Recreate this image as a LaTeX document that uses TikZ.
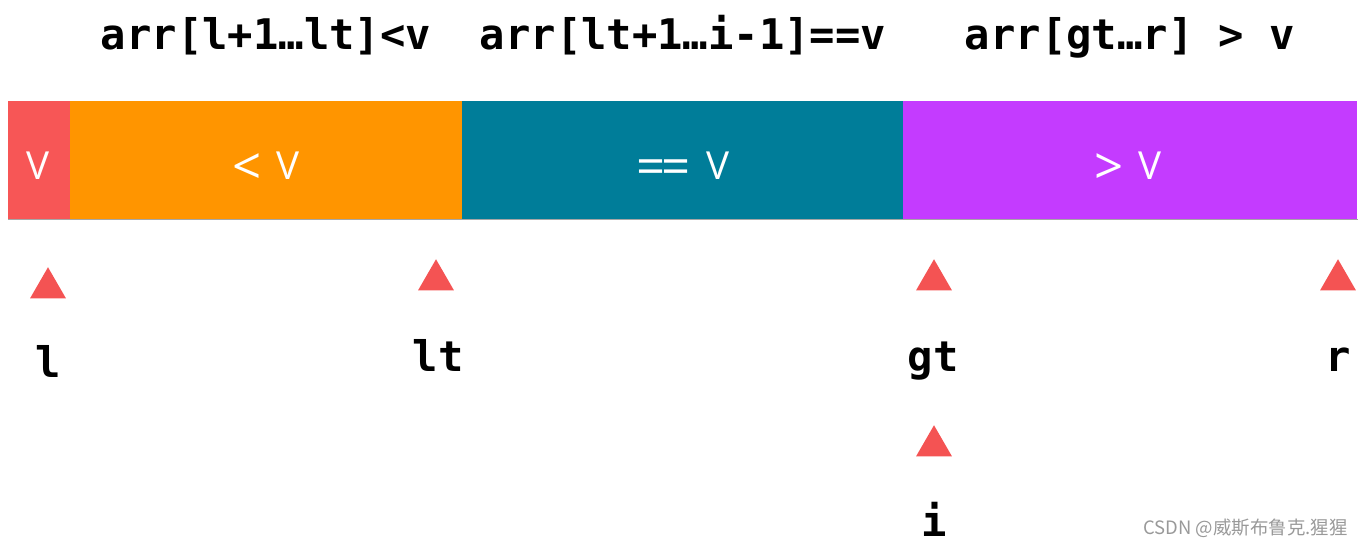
\documentclass[tikz,border=0pt]{standalone}
\usepackage{fontspec}
\setmonofont{DejaVu Sans Mono}
\newfontfamily\barfont{Open Sans}
\newfontfamily\cjk{Noto Sans CJK SC}
\usetikzlibrary{shapes.geometric}
\definecolor{cred}{HTML}{F75656}
\definecolor{corange}{HTML}{FF9500}
\definecolor{cteal}{HTML}{007D99}
\definecolor{cpurple}{HTML}{C43BFF}
\definecolor{ctri}{HTML}{F45353}
\newcommand{\bigsym}[1]{{\fontsize{29}{32}\selectfont\raisebox{-2.6pt}{#1}}}
\tikzset{
  seg/.style={draw=none, inner sep=0pt, anchor=north west, minimum height=118*0.02cm},
  bartext/.style={font=\barfont\fontsize{22}{24}\selectfont, text=white, anchor=base, inner sep=0pt},
  toplabel/.style={font=\ttfamily\bfseries\fontsize{24}{28}\selectfont, anchor=base, inner sep=0pt},
  ptrlabel/.style={font=\ttfamily\bfseries\fontsize{24}{28}\selectfont, anchor=base, inner sep=0pt},
  tri/.style={regular polygon, regular polygon sides=3, fill=ctri, draw=none, inner sep=0pt, minimum size=0.83cm},
}
\begin{document}
\begin{tikzpicture}[x=0.02cm, y=-0.02cm]
\useasboundingbox (0,0) rectangle (1363,546);
% bar segments
\node[seg, fill=cred, minimum width=62*0.02cm] (sv) at (8,101) {};
\node[seg, fill=corange, minimum width=392*0.02cm] (slt) at (70,101) {};
\node[seg, fill=cteal, minimum width=441*0.02cm] (seq) at (462,101) {};
\node[seg, fill=cpurple, minimum width=454*0.02cm] (sgt) at (903,101) {};
\draw[gray!70, line width=0.6pt] (sv.south west) -- (sgt.south east);
% bar texts
\node[bartext] (tv) at (38,180) {V};
\node[bartext] (tlt) at (266,180) {\bigsym{<}\hspace{8pt}V};
\node[bartext] (teq) at (683,180) {\bigsym{=}\hspace{-2pt}\bigsym{=}\hspace{9pt}V};
\node[bartext] (tgt) at (1128,180) {\bigsym{>}\hspace{8pt}V};
% top labels
\node[toplabel] (h1) at (266,50) {arr[l+1…lt]<v};
\node[toplabel] (h2) at (683,50) {arr[lt+1…i-1]==v};
\node[toplabel] (h3) at (1130,50) {arr[gt…r] > v};
% triangles
\node[tri] (pl) at (48,288) {};
\node[tri] (plt) at (436,280) {};
\node[tri] (pgt) at (934,280) {};
\node[tri] (pr) at (1338,280) {};
\node[tri] (pi) at (934,446) {};
% pointer labels
\node[ptrlabel] (ll) at (48,378) {l};
\node[ptrlabel] (llt) at (438,372) {lt};
\node[ptrlabel] (lgt) at (933,372) {gt};
\node[ptrlabel] (lr) at (1338,372) {r};
\node[ptrlabel] (li) at (934,537) {i};
% watermark
\node[font=\cjk\fontsize{10.5}{12}\selectfont, text=gray!80, anchor=base east, inner sep=0pt] (wm) at (1348,535) {CSDN @威斯布鲁克.猩猩};
\end{tikzpicture}
\end{document}
